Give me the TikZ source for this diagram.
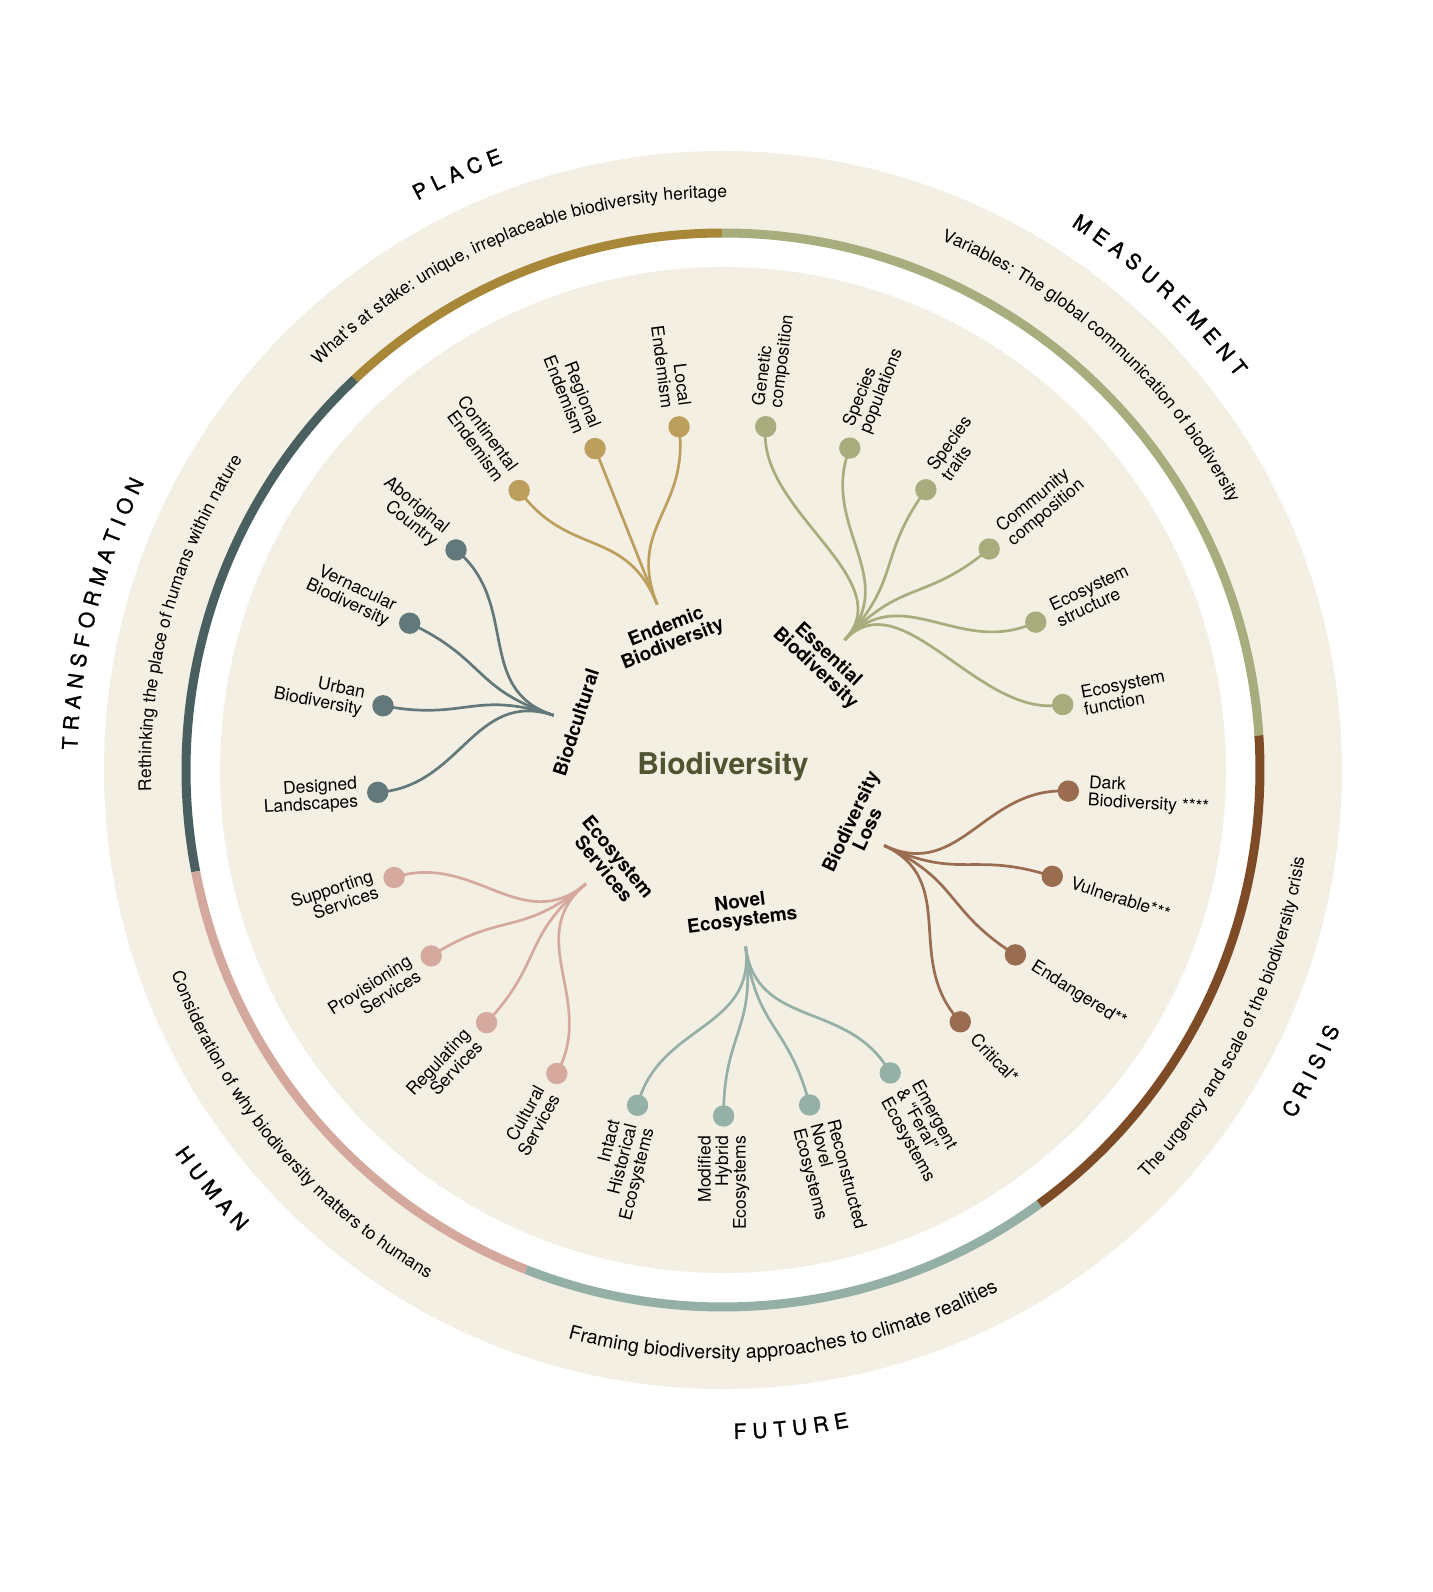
\documentclass[tikz,border=0pt]{standalone}
\usepackage{fontspec}
\setmainfont{TeX Gyre Heros}
\newfontfamily\catfam[FakeBold=1.2]{TeX Gyre Heros}
\usetikzlibrary{decorations.text}
\definecolor{beige}{HTML}{F4EFE3}
\definecolor{rgold}{HTML}{A98739}
\definecolor{rslate}{HTML}{4A5F60}
\definecolor{rpink}{HTML}{D4A89D}
\definecolor{rteal}{HTML}{94AFA5}
\definecolor{rbrown}{HTML}{7E4B27}
\definecolor{rolive}{HTML}{A8AD7E}
\definecolor{dgold}{HTML}{BC9F5D}
\definecolor{dslate}{HTML}{63787A}
\definecolor{dpink}{HTML}{D5A99E}
\definecolor{dteal}{HTML}{95B0A6}
\definecolor{dbrown}{HTML}{9A6C50}
\definecolor{dolive}{HTML}{A8AD7E}
\definecolor{centc}{HTML}{4F5531}
\newcommand\leaffont{\fontsize{17.5}{17.5}\selectfont}
\newcommand\hubfont{\fontsize{19}{18.5}\selectfont\bfseries}
\newcommand\bandfont{\fontsize{17.5}{17.5}\selectfont}
\newcommand\bandbig{\fontsize{19.5}{19.5}\selectfont}
\newcommand\catfont{\catfam\fontsize{21}{21}\selectfont}
\newcommand\centerfont{\fontsize{30}{30}\selectfont\bfseries}
\newcommand\cattrack{\kern6.2pt}
\tikzset{
  leafdot/.style={circle, inner sep=0pt, minimum size=21.4pt, draw=none},
  twig/.style={line width=2.7pt},
  ringseg/.style={line width=9pt},
  leafR/.style={font=\leaffont, align=left, inner sep=0pt, anchor=west, rotate=#1},
  leafL/.style={font=\leaffont, align=right, inner sep=0pt, anchor=east, rotate={#1+180}},
  hubT/.style={font=\hubfont, align=center, inner sep=0pt, anchor=north, rotate={#1-90}},
  hubB/.style={font=\hubfont, align=center, inner sep=0pt, anchor=south, rotate={#1+90}},
}
% #1 name, #2 angle, #3 colour, #4 side, #5 hub name, #6 hub angle, #7 text
\newcommand\mkleaf[7]{%
  \node[leafdot, fill=#3] (#1) at (#2:346pt) {};
  \draw[twig, draw=#3] (#5) .. controls (#6:262pt) and (#2:262pt) .. (#1.center);
  \node[leaf#4=#2] (#1-t) at (#2:366pt) {#7};
}
\begin{document}
\begin{tikzpicture}[x=1pt,y=1pt]
\useasboundingbox (-723pt,-822pt) rectangle (709pt,770pt);
\fill[white] (-723pt,-822pt) rectangle (709pt,770pt);
% discs
\fill[beige] (0,0) circle[radius=619pt];
\fill[white] (0,0) circle[radius=537pt];
\draw[ringseg, draw=rgold]  (90.1:537pt)  arc[start angle=90.1,  end angle=133.3, radius=537pt];
\draw[ringseg, draw=rslate] (133.3:537pt) arc[start angle=133.3, end angle=190.9, radius=537pt];
\draw[ringseg, draw=rpink]  (190.9:537pt) arc[start angle=190.9, end angle=248.5, radius=537pt];
\draw[ringseg, draw=rteal]  (248.5:537pt) arc[start angle=248.5, end angle=306.1, radius=537pt];
\draw[ringseg, draw=rbrown] (306.1:537pt) arc[start angle=306.1, end angle=363.7, radius=537pt];
\draw[ringseg, draw=rolive] (3.7:537pt)   arc[start angle=3.7,   end angle=90.1,  radius=537pt];
\fill[beige] (0,0) circle[radius=503pt];
% centre
\node[font=\centerfont, text=centc, anchor=base, inner sep=0pt] (bio) at (0pt,-5pt) {Biodiversity};
% hubs
\coordinate (hE)  at (111.7:178pt);
\coordinate (hEs) at (46.9:178pt);
\coordinate (hLo) at (-25.1:178pt);
\coordinate (hNo) at (-82.7:178pt);
\coordinate (hES) at (-140.3:178pt);
\coordinate (hBc) at (162.1:178pt);
\node[hubT=111.7] (hE-t)  at (111.7:163pt) {Endemic\\Biodiversity};
\node[hubT=46.9]  (hEs-t) at (47.6:165pt)  {Essential\\Biodiversity};
\node[hubB=-25.1] (hLo-t) at (-22.5:163pt) {Biodiversity\\Loss};
\node[hubB=-82.7] (hNo-t) at (-82.7:162pt) {Novel\\Ecosystems};
\node[hubB=-140.3] (hES-t) at (-140.3:162pt) {Ecosystem\\Services};
\node[hubT=162.1] (hBc-t) at (162.1:162pt) {Biodcultural};
% leaves
\mkleaf{l0}{126.1}{dgold}{L}{hE}{111.7}{Continental\\Endemism}
\mkleaf{l1}{111.7}{dgold}{L}{hE}{111.7}{Regional\\Endemism}
\mkleaf{l2}{97.3}{dgold}{L}{hE}{111.7}{Local\\Endemism}
\mkleaf{l3}{82.9}{dolive}{R}{hEs}{46.9}{Genetic\\composition}
\mkleaf{l4}{68.5}{dolive}{R}{hEs}{46.9}{Species\\populations}
\mkleaf{l5}{54.1}{dolive}{R}{hEs}{46.9}{Species\\traits}
\mkleaf{l6}{39.7}{dolive}{R}{hEs}{46.9}{Community\\composition}
\mkleaf{l7}{25.3}{dolive}{R}{hEs}{46.9}{Ecosystem\\structure}
\mkleaf{l8}{10.9}{dolive}{R}{hEs}{46.9}{Ecosystem\\function}
\mkleaf{l9}{-3.5}{dbrown}{R}{hLo}{-25.1}{Dark\\Biodiversity ****}
\mkleaf{l10}{-17.9}{dbrown}{R}{hLo}{-25.1}{Vulnerable***}
\mkleaf{l11}{-32.3}{dbrown}{R}{hLo}{-25.1}{Endangered**}
\mkleaf{l12}{-46.7}{dbrown}{R}{hLo}{-25.1}{Critical*}
\mkleaf{l13}{-61.1}{dteal}{R}{hNo}{-82.7}{Emergent\\\& “Feral”\\Ecosystems}
\mkleaf{l14}{-75.5}{dteal}{R}{hNo}{-82.7}{Reconstructed\\Novel\\Ecosystems}
\mkleaf{l15}{-89.9}{dteal}{L}{hNo}{-82.7}{Modified\\Hybrid\\Ecosystems}
\mkleaf{l16}{-104.3}{dteal}{L}{hNo}{-82.7}{Intact\\Historical\\Ecosystems}
\mkleaf{l17}{-118.7}{dpink}{L}{hES}{-140.3}{Cultural\\Services}
\mkleaf{l18}{-133.1}{dpink}{L}{hES}{-140.3}{Regulating\\Services}
\mkleaf{l19}{-147.5}{dpink}{L}{hES}{-140.3}{Provisioning\\Services}
\mkleaf{l20}{-161.9}{dpink}{L}{hES}{-140.3}{Supporting\\Services}
\mkleaf{l21}{-176.3}{dslate}{L}{hBc}{162.1}{Designed\\Landscapes}
\mkleaf{l22}{169.3}{dslate}{L}{hBc}{162.1}{Urban\\Biodiversity}
\mkleaf{l23}{154.9}{dslate}{L}{hBc}{162.1}{Vernacular\\Biodiversity}
\mkleaf{l24}{140.5}{dslate}{L}{hBc}{162.1}{Aboriginal\\Country}
% band texts
\path[decorate, decoration={text along path, text align=center, text={|\bandfont|What’s at stake: unique, irreplaceable biodiversity heritage}}]
  (172.3:572pt) arc[start angle=172.3, end angle=52.3, radius=572pt];
\path[decorate, decoration={text along path, text align=center, text={|\bandfont|Variables: The global communication of biodiversity}}]
  (107.7:573pt) arc[start angle=107.7, end angle=-12.3, radius=573pt];
\path[decorate, decoration={text along path, text align=center, text={|\bandfont|Rethinking the place of humans within nature}}]
  (224.65:572pt) arc[start angle=224.65, end angle=104.65, radius=572pt];
\path[decorate, decoration={text along path, text align=center, text={|\bandfont|The urgency and scale of the biodiversity crisis}}]
  (-86.3:588pt) arc[start angle=-86.3, end angle=33.7, radius=588pt];
\path[decorate, decoration={text along path, text align=center, text={|\bandbig|Framing biodiversity approaches to climate realities}}]
  (216.3:589pt) arc[start angle=216.3, end angle=336.3, radius=589pt];
\path[decorate, decoration={text along path, text align=center, text={|\bandfont|Consideration of why biodiversity matters to humans}}]
  (160.05:588pt) arc[start angle=160.05, end angle=280.05, radius=588pt];
% category labels
\path[decorate, decoration={text along path, text align=center, text={|\catfont|{P\cattrack}{L\cattrack}{A\cattrack}{C\cattrack}E}}]
  (174.05:646pt) arc[start angle=174.05, end angle=54.05, radius=646pt];
\path[decorate, decoration={text along path, text align=center, text={|\catfont|{M\cattrack}{E\cattrack}{A\cattrack}{S\cattrack}{U\cattrack}{R\cattrack}{E\cattrack}{M\cattrack}{E\cattrack}{N\cattrack}T}}]
  (107.4:646pt) arc[start angle=107.4, end angle=-12.6, radius=646pt];
\path[decorate, decoration={text along path, text align=center, text={|\catfont|{T\cattrack}{R\cattrack}{A\cattrack}{N\cattrack}{S\cattrack}{F\cattrack}{O\cattrack}{R\cattrack}{M\cattrack}{A\cattrack}{T\cattrack}{I\cattrack}{O\cattrack}N}}]
  (225.9:646pt) arc[start angle=225.9, end angle=105.9, radius=646pt];
\path[decorate, decoration={text along path, text align=center, text={|\catfont|{C\cattrack}{R\cattrack}{I\cattrack}{S\cattrack}{I\cattrack}S}}]
  (-87.1:669pt) arc[start angle=-87.1, end angle=32.9, radius=669pt];
\path[decorate, decoration={text along path, text align=center, text={|\catfont|{F\cattrack}{U\cattrack}{T\cattrack}{U\cattrack}{R\cattrack}E}}]
  (215.9:669pt) arc[start angle=215.9, end angle=335.9, radius=669pt];
\path[decorate, decoration={text along path, text align=center, text={|\catfont|{H\cattrack}{U\cattrack}{M\cattrack}{A\cattrack}N}}]
  (159.3:669pt) arc[start angle=159.3, end angle=279.3, radius=669pt];
\end{tikzpicture}
\end{document}
